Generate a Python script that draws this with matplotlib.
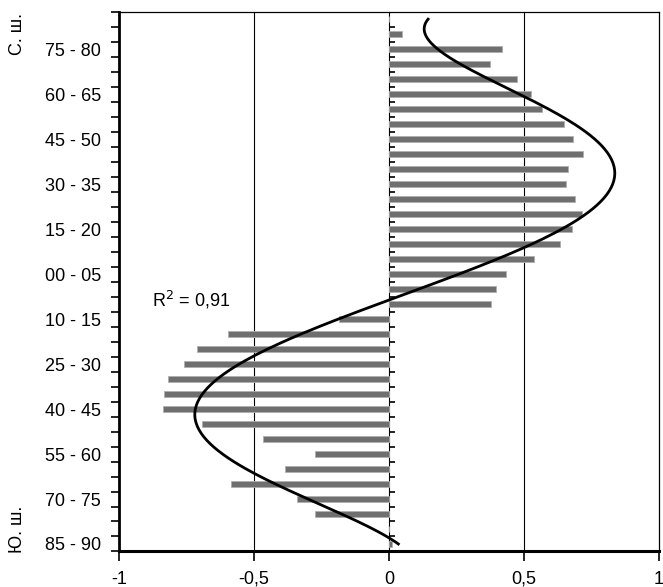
import numpy as np
import matplotlib
matplotlib.use('Agg')
import matplotlib.pyplot as plt

plt.rcParams['font.family'] = ['Liberation Sans', 'DejaVu Sans']

# latitude bands, north (85-90) down to south (85-90)
north_bands = ['%02d - %02d' % (85 - 5 * k, 90 - 5 * k) for k in range(18)]
south_bands = ['%02d - %02d' % (5 * k, 5 * k + 5) for k in range(18)]
bands = north_bands + south_bands

# correlation per band (0 where there is no bar)
values = [0.0, 0.048, 0.42, 0.374, 0.475, 0.527, 0.566, 0.647, 0.683, 0.718,
          0.663, 0.657, 0.688, 0.716, 0.676, 0.632, 0.537, 0.435,
          0.396, 0.376, -0.184, -0.595, -0.711, -0.761, -0.817, -0.832,
          -0.838, -0.694, -0.465, -0.274, -0.384, -0.585, -0.34, -0.274,
          0.0, 0.01]

xticks = [-1, -0.5, 0, 0.5, 1]
xticklabels = ['-1', '-0,5', '0', '0,5', '1']

idx = np.arange(len(bands))
vals = np.array(values)

fig = plt.figure(figsize=(6.63, 5.87), dpi=100)
ax = fig.add_axes([0.1795, 0.0605, 0.8145, 0.9196])

ax.barh(idx, vals, height=0.44, color='#6f6f6f',
        edgecolor='#b0b0b0', linewidth=0.6, zorder=2)

# polynomial trend line (5th order) of the bars
p = np.polyfit(idx, vals, 5)
tt = np.linspace(0, 35, 300)
ax.plot(np.polyval(p, tt), tt, color='black', lw=2.0, zorder=3)

ax.text(-0.876, 19.17, 'R$^2$ = 0,91', fontsize=13, ha='left', va='baseline')

for v in [-0.5, 0.5]:
    ax.axvline(v, color='black', lw=0.8, zorder=1)

ax.set_xlim(-1, 1)
ax.set_ylim(35.5, -0.5)

ax.set_xticks(xticks)
ax.set_xticklabels(xticklabels, fontsize=13)
ax.tick_params(axis='x', direction='out', length=7.2, width=1.2, pad=6.5)

lab_pos = list(range(2, 36, 3))
ax.set_yticks(lab_pos)
ax.set_yticklabels([bands[k] for k in lab_pos], fontsize=13)
ax.set_yticks(np.arange(-0.5, 36, 1), minor=True)
ax.tick_params(axis='y', which='major', length=0, pad=13)
ax.tick_params(axis='y', which='minor', direction='out', length=5.8, width=1.2)

ax.spines['left'].set_linewidth(2)
ax.spines['bottom'].set_linewidth(2.2)
ax.spines['top'].set_linewidth(0.9)
ax.spines['right'].set_linewidth(0.9)

# category axis crossing at zero
sec = ax.secondary_yaxis(0.5)
sec.set_yticks(np.arange(0.5, 35, 1))
sec.set_yticklabels([])
sec.tick_params(direction='out', length=4.3, width=1.2)
sec.spines['left'].set_linewidth(1.2)

fig.text(18 / 663, 1 - 34 / 587, 'С. ш.', rotation=90, fontsize=13, ha='center', va='center')
fig.text(18 / 663, 1 - 529 / 587, 'Ю. ш.', rotation=90, fontsize=13, ha='center', va='center')

fig.savefig('out.png', dpi=100)
